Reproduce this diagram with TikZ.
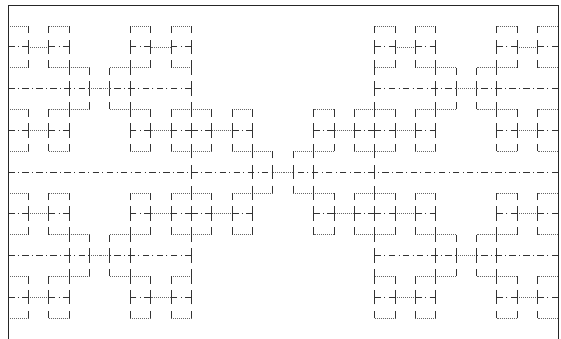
\documentclass[tikz,border=0pt]{standalone}
\tikzset{
  vseg/.style={draw=black!80, line width=0.8pt, dash pattern=on 14.5pt off 6.36pt, dash phase=7.25pt},
  dotseg/.style={draw=black!60, line width=0.6pt, dash pattern=on 0.8pt off 1.2pt},
  ddseg/.style={draw=black!80, line width=0.7pt, dash pattern=on 6.5pt off 3.3pt on 1pt off 3.3pt},
  framel/.style={draw=black!85, line width=0.8pt}
}
\newcommand\motifquarter{%
  \draw[dotseg] (-0.5,0)--(0,0) (-2.5,1)--(-0.5,1) (-2.5,3)--(-1.5,3)
    (-3.5,2)--(-2.5,2) (-4.5,3)--(-3.5,3) (-4.5,1)--(-3.5,1);
  \draw[ddseg] (-4.5,2)--(-3.5,2) (-2.5,2)--(-1.5,2);
  \draw[vseg] (-0.5,0)--(-0.5,1) (-2.5,1)--(-2.5,3) (-1.5,0)--(-1.5,3) (-3.5,1)--(-3.5,3);
}
\newcommand\motifat[2]{%
  \foreach \sx in {1,-1}{\foreach \sy in {1,-1}{%
    \begin{scope}[shift={(#1,#2)}, xscale=\sx, yscale=\sy]\motifquarter\end{scope}}}}
\begin{document}
\begin{tikzpicture}[x=20.37pt, y=20.86pt]
  \useasboundingbox (-283pt,-166pt) rectangle (278pt,172pt);
  % motifs
  \motifat{0}{0}
  \motifat{-9}{4}
  \motifat{9}{4}
  \motifat{-9}{-4}
  \motifat{9}{-4}
  % block centre bars
  \draw[ddseg] (-13.5,4)--(-9.5,4) (-4.5,4)--(-8.5,4)
               (13.5,4)--(9.5,4) (4.5,4)--(8.5,4)
               (-13.5,-4)--(-9.5,-4) (-4.5,-4)--(-8.5,-4)
               (13.5,-4)--(9.5,-4) (4.5,-4)--(8.5,-4);
  % main horizontal
  \draw[ddseg] (-13.5,0)--(-0.5,0) (13.5,0)--(0.5,0);
  % main verticals
  \draw[vseg] (-4.5,-7)--(-4.5,7) (4.5,-7)--(4.5,7);
  % frame
  \draw[framel] (-13.5,-8.2)--(-13.5,8)--(13.5,8)--(13.5,-8.2);
\end{tikzpicture}
\end{document}
